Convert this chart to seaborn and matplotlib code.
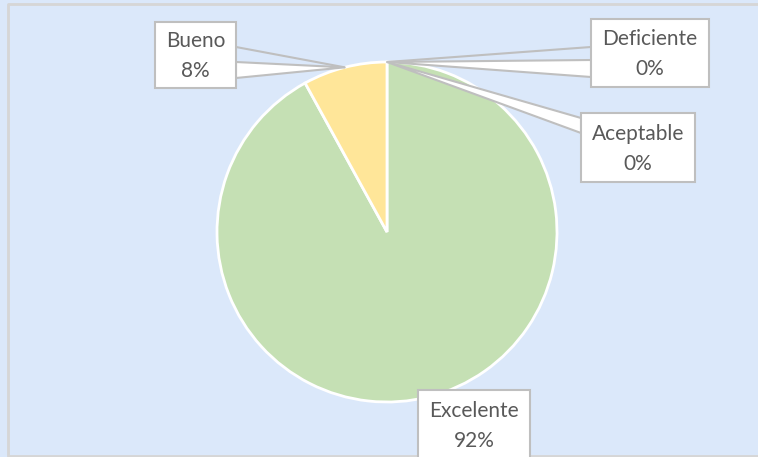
import numpy as np
import matplotlib.pyplot as plt
import seaborn as sns
from matplotlib.patches import Rectangle, Polygon

# Data
categories = ["Deficiente", "Aceptable", "Excelente", "Bueno"]
values = [0, 0, 92, 8]
pct_labels = ["0%", "0%", "92%", "8%"]
colors = ["#9DC3E6", "#F4B183", "#C5E0B4", "#FFE699"]

bg = "#DBE8FA"
line_gray = "#BFBFBF"
text_gray = "#595959"

sns.set_style("white")
plt.rcParams["font.family"] = ["Lato", "DejaVu Sans"]

H = 457
fig = plt.figure(figsize=(7.58, 4.57), dpi=100, facecolor=bg)
ax = fig.add_axes([0, 0, 1, 1])
ax.set_facecolor(bg)

center = (387, H - 232)
radius = 170
wedges, _ = ax.pie(values, colors=colors, startangle=90, counterclock=False,
                   center=center, radius=radius,
                   wedgeprops=dict(edgecolor="white", linewidth=2))
ax.set_xlim(0, 758)
ax.set_ylim(0, H)
ax.set_aspect("equal")
ax.axis("off")

# chart area border (left, top, bottom; right side runs off the picture)
ax.plot([800, 8, 8, 800], [H - 4, H - 4, 1, 1], color="#D6D6D6", lw=2, zorder=1)

# callout boxes (image pixel coords: x0, x1, y0, y1) and pointer base on box edge
boxes = {
    "Bueno": (155, 236, 22, 88),
    "Deficiente": (591, 709, 19, 87),
    "Aceptable": (581, 695, 113, 182),
    "Excelente": (418, 530, 390, 462),
}
pointers = {
    "Bueno": (236, 62, 78, 47),
    "Deficiente": (591, 60, 77, 47),
    "Aceptable": (581, 118, 133, None),
}

for w, cat, pct in zip(wedges, categories, pct_labels):
    mid = np.deg2rad((w.theta1 + w.theta2) / 2)
    tip = (center[0] + radius * np.cos(mid), center[1] + radius * np.sin(mid))
    x0, x1, y0, y1 = boxes[cat]
    if cat in pointers:
        bx, ya, yb, yextra = pointers[cat]
        tri = Polygon([(bx, H - ya), tip, (bx, H - yb)], closed=True,
                      facecolor="white", edgecolor=line_gray, lw=1.5, zorder=4)
        ax.add_patch(tri)
        if yextra is not None:
            ax.plot([bx, tip[0]], [H - yextra, tip[1]], color=line_gray, lw=1.5, zorder=4)
    ax.add_patch(Rectangle((x0, H - y1), x1 - x0, y1 - y0, facecolor="white",
                           edgecolor=line_gray, lw=1.5, zorder=5))
    cx = (x0 + x1) / 2
    cy = (y0 + y1) / 2 if cat != "Excelente" else 425
    ax.text(cx, H - (cy - 14), cat, ha="center", va="center", fontsize=15,
            color=text_gray, zorder=6)
    ax.text(cx, H - (cy + 16), pct, ha="center", va="center", fontsize=15,
            color=text_gray, zorder=6)

fig.savefig("out.png", dpi=100, facecolor=bg)
